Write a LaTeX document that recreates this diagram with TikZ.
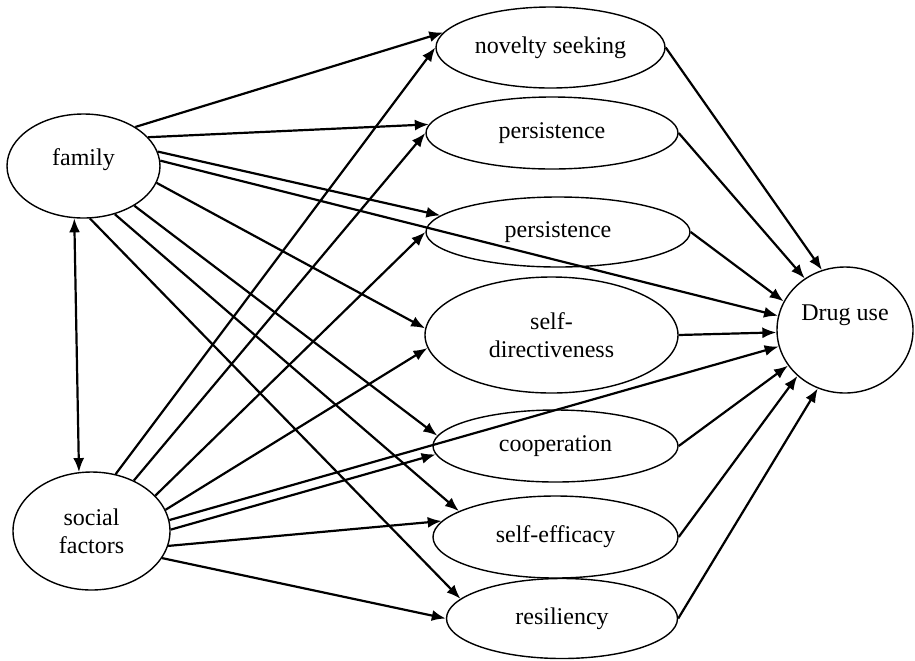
\documentclass[tikz,border=0pt]{standalone}
\usepackage{fontspec}
\setmainfont{Liberation Serif}
\usetikzlibrary{arrows.meta,shapes.geometric}
\tikzset{
  factor/.style={draw,ellipse,line width=0.7pt,inner sep=0pt,align=center,
    font=\fontsize{12}{13.8}\selectfont},
  link/.style={line width=1.1pt,-{Latex[length=7pt,width=5.5pt]}}
}

\begin{document}
\begin{tikzpicture}[x=0.5pt,y=-0.5pt]
        \useasboundingbox (0,0) rectangle (915,660);
        % predictors
        \node[factor,minimum width=76.5pt,minimum height=52pt,text height=8pt,text depth=9pt] (fam) at (83.5,166) {family};
        \node[factor,minimum width=78.5pt,minimum height=59pt] (soc) at (91.5,531) {social\\factors};
        % mediators
        \node[factor,minimum width=114.5pt,minimum height=40.5pt] (nov) at (550.5,47.5) {novelty seeking};
        \node[factor,minimum width=126pt,minimum height=36pt] (per) at (552,133) {persistence};
        \node[factor,minimum width=132pt,minimum height=35pt] (pers) at (558,232) {persistence};
        \node[factor,minimum width=126.5pt,minimum height=58pt] (sdir) at (551.5,335) {self-\\directiveness};
        \node[factor,minimum width=122.5pt,minimum height=36pt] (coop) at (555.5,446) {cooperation};
        \node[factor,minimum width=122.5pt,minimum height=41pt] (seff) at (555.5,537) {self-efficacy};
        \node[factor,minimum width=115.5pt,minimum height=40pt] (res) at (562,618.5) {resiliency};
        % outcome
        \node[factor,minimum width=68pt,minimum height=63pt,text height=8pt,text depth=18pt] (drug) at (845,330) {Drug use};

        \draw[line width=1.1pt,{Latex[length=7pt,width=5.5pt]}-{Latex[length=7pt,width=5.5pt]}] (fam.-100) -- (soc.102);
        \foreach \t/\a/\b in {nov/37/172,per/24/176,pers/11/172,sdir/-13/177,coop/-38/175,seff/-57/165,res/-83/169}
          \draw[link] (fam.\a) -- (\t.\b);
        \foreach \t/\a/\b in {nov/67/180,per/50/180,pers/29/180,sdir/16/186,coop/1/184,seff/-11.5/172,res/-21/180}
          \draw[link] (soc.\a) -- (\t.\b);
        \draw[link] (fam.4) -- (drug.168);
        \draw[link] (soc.8) -- (drug.194);
        \foreach \s/\b in {nov/111,per/128,pers/155,sdir/182,coop/212,seff/224,res/245}
          \draw[link] (\s.east) -- (drug.\b);
\end{tikzpicture}
\end{document}
